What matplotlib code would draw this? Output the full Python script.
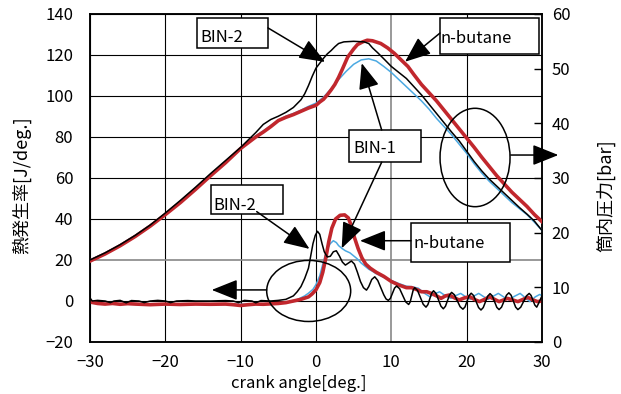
import matplotlib
matplotlib.use('Agg')
import matplotlib.pyplot as plt
from matplotlib.patches import Rectangle, Ellipse

plt.rcParams['font.family'] = ['Noto Sans CJK JP', 'DejaVu Sans']

# 熱発生率 [J/deg.]  (left axis)
bin2_hr_x = [-30, -29.7, -29, -28, -27.3, -26.8, -26, -25.2, -24.5, -23.5, -22.8, -22, -21, -20,
             -19.3, -18.5, -17, -16, -14, -12, -11, -10.3, -9.5, -8.5, -8, -7.3, -6, -5,
             -4, -3, -2.5, -2, -1.5, -1, -0.7, -0.4, -0.1, 0.2, 0.5, 0.8, 1.1, 1.5, 1.9, 2.3,
             2.7, 3.1, 3.5, 3.9, 4.3, 4.7, 5.1, 5.5, 5.9, 6.3, 6.7, 7.0, 7.4, 7.8, 8.2, 8.6,
             9.0, 9.3, 9.6,
             9.88, 10.15, 10.43, 10.7, 11.1, 11.5, 11.9, 12.3, 12.5, 12.7, 12.9, 13.1,
             13.48, 13.85, 14.23, 14.6, 14.85, 15.1, 15.35, 15.6, 15.93, 16.25, 16.58, 16.9,
             17.18, 17.45, 17.73, 18.0, 18.38, 18.75, 19.13, 19.5, 19.78, 20.05, 20.33, 20.6,
             20.93, 21.25, 21.58, 21.9, 22.2, 22.5, 22.8, 23.1, 23.4, 23.7, 24.0, 24.3,
             24.63, 24.95, 25.28, 25.6, 25.9, 26.2, 26.5, 26.8, 27.18, 27.55, 27.93, 28.3,
             28.55, 28.8, 29.05, 29.3, 29.5, 29.75, 30]
bin2_hr = [1.5, 0, 0.3, 0, -0.8, 0, 0.3, -0.9, 0.2, 0, -0.8, 0, 0.3, 0,
           -0.8, 0, 0.2, 0, 0, 0.2, 0, -0.8, 0.3, 0, -0.9, 0.2, 0, 0.3,
           0.8, 2.5, 4.5, 7, 11, 16, 22, 28, 32, 34, 32.5, 28, 24, 21.5, 21.8, 24,
           24.5, 22, 19, 17.5, 18.5, 19.5, 18, 14, 9.5, 6.5, 5.3, 7, 10.5, 11.8, 10, 6.5,
           3.0, 1.0, 0.3,
           1.3, 3.8, 6.3, 7.3, 6.0, 2.8, -0.4, -1.7, -0.5, 2.4, 5.3, 6.5,
           5.1, 1.75, -1.6, -3.0, -1.8, 1.0, 3.8, 5.0, 3.7, 0.6, -2.5, -3.8,
           -2.6, 0.2, 3.0, 4.2, 3.0, 0.1, -2.8, -4.0, -2.9, -0.1, 2.7, 3.8,
           2.6, -0.3, -3.2, -4.4, -3.2, -0.4, 2.4, 3.6, 2.5, -0.3, -3.1, -4.2,
           -3.0, -0.1, 2.8, 4.0, 2.8, -0.1, -3.0, -4.2, -3.0, -0.25, 2.5, 3.7,
           2.7, 0.35, -2.0, -3.0, -1.5, 0.5, 2.5]

nb_hr_x = [-30, -29, -28, -27, -26, -25, -24, -22, -20, -18, -16, -14, -12, -11, -10, -9, -8, -7,
           -6, -5, -4, -3, -2, -1, -0.5, 0, 0.5, 0.9, 1.3, 1.7, 2.1, 2.6, 3.2, 3.8, 4.3, 4.7,
           5.1, 5.6, 6.1, 6.6, 7.2, 8, 9, 10, 11, 12, 12.7, 13.4, 14, 14.7, 15.3, 16, 16.6,
           17.2, 17.7, 18.4, 19, 19.7, 20.4, 21, 21.7, 22.4, 23, 23.7, 24.3, 24.9, 25.4, 26.1,
           26.8, 27.5, 28.1, 28.8, 29.4, 30]
nb_hr = [-0.5, -1.2, -1.5, -1.2, -1.6, -1.3, -1.5, -1.8, -1.5, -1.7, -1.5, -1.6, -1.5, -1.8, -2.2,
         -1.8, -1.5, -1.6, -1.4, -1.2, -0.8, 0, 0.8, 2, 3.5, 5.5, 9, 14, 21, 29, 35.5, 40, 41.8,
         42, 40.5, 36.5, 31, 25.5, 21, 18, 16, 14, 12, 9.5, 7.8, 6.5, 6.5, 5.5, 4.5, 4.5, 3.7,
         2.5, 1.3, 2.5, 2.9, 1.5, 0.5, 1.5, 2.1, 0.8, -0.3, 0.8, 2.1, 0.8, -0.3, 0.5, 1.3, 0.5,
         -0.3, 0.8, 1.8, 0.5, -0.3, 0]

b1_hr_x = [-30, -27, -24, -21, -18, -15, -12, -9, -6, -4, -3, -2.2, -1.5, -1, -0.4, 0, 0.5, 0.9,
           1.2, 1.6, 1.9, 2.3, 2.7, 3.0, 3.5, 3.9, 4.5, 5, 5.5, 6, 6.5, 7, 7.5, 8, 9, 10, 11, 12,
           12.7, 13.6, 14.3, 15.1, 15.8, 16.4, 17.2, 17.9, 18.6, 19.2, 19.9, 20.5, 21, 21.6, 22.3,
           22.9, 23.6, 24.2, 24.9, 25.6, 26.3, 27.1, 27.8, 28.4, 29.1, 29.7, 30]
b1_hr = [-1, -1.2, -1.3, -1.4, -1.5, -1.4, -1.6, -1.6, -1.4, -0.8, -0.2, 1.2, 2.5, 3.8, 5.7, 8,
         12.3, 18, 22, 26, 28, 29.4, 28.5, 27, 25.5, 24.5, 23.5, 22, 20.5, 18.5, 17, 15.5, 14.5,
         13.3, 11.5, 10, 8.5, 7.2, 7, 6.2, 4, 2.1, 3.5, 4.5, 2.5, 1.3, 2.7, 3.7, 2, 0.8, 2.5,
         3.7, 2, 0.8, 2.5, 3.7, 2, 0.5, 2.2, 3.7, 1.5, -0.3, 2, 3.2, 2.5]

# 筒内圧力 [bar]  (right axis)
bin2_p_x = [-30, -28, -26, -24, -22, -20, -18, -16, -14, -12, -10, -8, -7, -6, -5, -4, -3, -2,
            -1.5, -1, -0.5, 0, 0.5, 1, 1.5, 2, 2.5, 3, 3.7, 5, 6.4, 7, 7.5, 8.2, 9, 10, 11, 12,
            13, 14, 15, 16, 17, 18, 19, 20, 21, 22, 23, 24, 25, 26, 27, 28, 29, 30]
bin2_p = [15.0, 16.3, 17.8, 19.5, 21.4, 23.6, 25.9, 28.3, 30.8, 33.2, 35.6, 38.3, 39.8, 40.7,
          41.3, 42.0, 42.9, 44.3, 45.4, 46.9, 48.6, 50.1, 51.0, 51.9, 52.7, 53.3, 54.0, 54.6,
          54.9, 55.0, 54.9, 54.6, 53.8, 52.9, 51.8, 50.4, 49.3, 48.2, 46.7, 45.2, 43.5, 41.8,
          40.1, 38.4, 36.8, 34.9, 33.0, 31.3, 29.8, 28.5, 27.2, 25.9, 24.6, 23.4, 22.1, 20.4]

b1_p_x = [-30, -28, -26, -24, -22, -20, -18, -16, -14, -12, -10, -8, -7, -6, -5, -4, -3, -2, -1,
          0, 1, 2, 3, 4, 5, 6, 7, 8, 9, 10, 11, 12, 13, 14, 15, 16, 17, 18, 19, 20, 21, 22, 23,
          24, 25, 26, 27, 28, 29, 30]
b1_p = [15.0, 16.3, 17.8, 19.5, 21.4, 23.4, 25.7, 28.1, 30.6, 33.0, 35.4, 37.7, 38.6, 39.6,
        40.5, 41.3, 41.8, 42.4, 43.1, 43.7, 44.8, 46.3, 48.0, 49.5, 50.8, 51.6, 51.8, 51.4, 50.4,
        49.3, 48.0, 46.7, 45.4, 44.1, 42.6, 40.9, 39.4, 37.9, 36.2, 34.5, 32.6, 30.9, 29.4, 28.1,
        26.8, 25.5, 24.4, 23.3, 21.9, 20.4]

nb_p_x = [-30, -28, -26, -24, -22, -20, -18, -16, -14, -12, -10, -8, -7, -6, -5, -4, -3, -2, -1,
          0, 0.5, 1, 1.5, 2, 2.5, 3, 3.5, 4.2, 5, 5.5, 6.2, 6.8, 7.5, 8.6, 9.5, 10.4, 11.3, 12.2,
          13, 14, 15, 16, 17, 18, 19, 20, 21, 22, 23, 24, 25, 26, 27, 28, 29, 30]
nb_p = [14.8, 16.1, 17.6, 19.3, 21.2, 23.3, 25.5, 27.9, 30.4, 32.8, 35.4, 37.5, 38.4, 39.4, 40.5,
        41.1, 41.6, 42.2, 42.8, 43.3, 43.9, 44.4, 45.2, 46.1, 47.1, 48.4, 49.9, 52.1, 53.6, 54.4,
        54.9, 55.2, 55.1, 54.6, 53.8, 52.8, 51.6, 50.4, 48.9, 47.1, 45.6, 44.1, 42.4, 40.7, 39.0,
        37.3, 35.6, 33.8, 32.1, 30.4, 28.9, 27.4, 26.1, 24.8, 23.3, 22.0]

x_ticks = [-30, -20, -10, 0, 10, 20, 30]
hr_ticks = [-20, 0, 20, 40, 60, 80, 100, 120, 140]
p_ticks = [0, 10, 20, 30, 40, 50, 60]

RED = '#c1272d'
BLUE = '#4ba9e2'

fig = plt.figure(figsize=(6.21, 3.94), dpi=100)
ax = fig.add_axes([0.1449, 0.132, 0.7279, 0.8325])
ax2 = ax.twinx()

# heat release
ax.plot(b1_hr_x, b1_hr, color=BLUE, lw=1.1, zorder=3)
ax.plot(nb_hr_x, nb_hr, color=RED, lw=2.6, zorder=4)
ax.plot(bin2_hr_x, bin2_hr, color='black', lw=1.1, zorder=5)

# cylinder pressure
ax2.plot(b1_p_x, b1_p, color=BLUE, lw=1.1, zorder=3)
ax2.plot(nb_p_x, nb_p, color=RED, lw=2.6, zorder=4)
ax2.plot(bin2_p_x, bin2_p, color='black', lw=1.1, zorder=5)

ax.set_xlim(-30, 30)
ax.set_ylim(-20, 140)
ax2.set_ylim(0, 60)
ax.set_xticks(x_ticks)
ax.set_yticks(hr_ticks)
ax2.set_yticks(p_ticks)

ax.grid(True, color='black', lw=0.8)
ax.get_ygridlines()[2].set_color('#888888')
ax.get_ygridlines()[2].set_linewidth(1.2)
ax.get_xgridlines()[4].set_color('#888888')
ax.get_xgridlines()[4].set_linewidth(1.2)

ax.tick_params(axis='both', length=0, labelsize=12)
ax.tick_params(axis='y', pad=12)
ax.tick_params(axis='x', pad=9)
ax2.tick_params(axis='y', direction='in', length=6, width=1, pad=7, labelsize=12)
for a in (ax, ax2):
    for s in a.spines.values():
        s.set_linewidth(1.1)
        s.set_color('black')

fig.text(21.7 / 621, 1 - 185 / 394, '熱発生率[J/deg.]', rotation=90, ha='center', va='center', fontsize=13)
fig.text(606 / 621, 1 - 196 / 394, '筒内圧力[bar]', rotation=90, ha='center', va='center', fontsize=13)
fig.text(299 / 621, 1 - 384 / 394, 'crank angle[deg.]', ha='center', va='center', fontsize=12)

# annotations (left-axis data coordinates)
T = ax.transData
arrow_style = dict(arrowstyle='-|>,head_length=0.8,head_width=0.32', mutation_scale=20,
                   color='black', lw=1.1, shrinkA=0, shrinkB=0)

def arrow(start, tip):
    ax2.annotate('', xy=tip, xytext=start, xycoords=T, textcoords=T,
                 arrowprops=arrow_style, annotation_clip=False, zorder=7)

def label_box(x0, x1, y0, y1, txt, tx, ty):
    ax2.add_patch(Rectangle((x0, y0), x1 - x0, y1 - y0, transform=T, fc='white',
                            ec='black', lw=1.1, zorder=6, clip_on=False))
    ax2.text(tx, ty, txt, transform=T, ha='left', va='center', fontsize=12, zorder=8)

arrow((-6.37, 133.2), (1.2, 116.6))
arrow((16.46, 130.7), (11.82, 116.7))
arrow((8.72, 83.4), (6.07, 116.0))
arrow((8.72, 67.7), (3.41, 25.7))
arrow((-7.87, 43.6), (-0.86, 25.4))
arrow((12.61, 29.4), (5.84, 29.4))
arrow((25.85, 71.2), (32.17, 71.2))
arrow((-6.54, 5.4), (-13.84, 5.4))

label_box(-15.8, -6.37, 123.4, 138.0, 'BIN-2', -15.4, 128.3)
label_box(16.46, 29.64, 120.5, 137.9, 'n-butane', 16.55, 128.0)
label_box(4.42, 13.9, 67.7, 83.4, 'BIN-1', 4.96, 74.5)
label_box(-13.98, -4.42, 42.3, 56.6, 'BIN-2', -13.63, 46.6)
label_box(12.61, 25.75, 19.2, 37.9, 'n-butane', 12.92, 28.1)

ax2.add_patch(Ellipse((21.11, 70.0), 9.29, 48.0, transform=T, fc='none', ec='black',
                      lw=1.1, zorder=6))
ax2.add_patch(Ellipse((-0.97, 4.9), 11.15, 29.8, transform=T, fc='none', ec='black',
                      lw=1.1, zorder=6))

ax.set_xlim(-30, 30)
ax.set_ylim(-20, 140)
ax2.set_ylim(0, 60)

fig.savefig('out.png', dpi=100)
